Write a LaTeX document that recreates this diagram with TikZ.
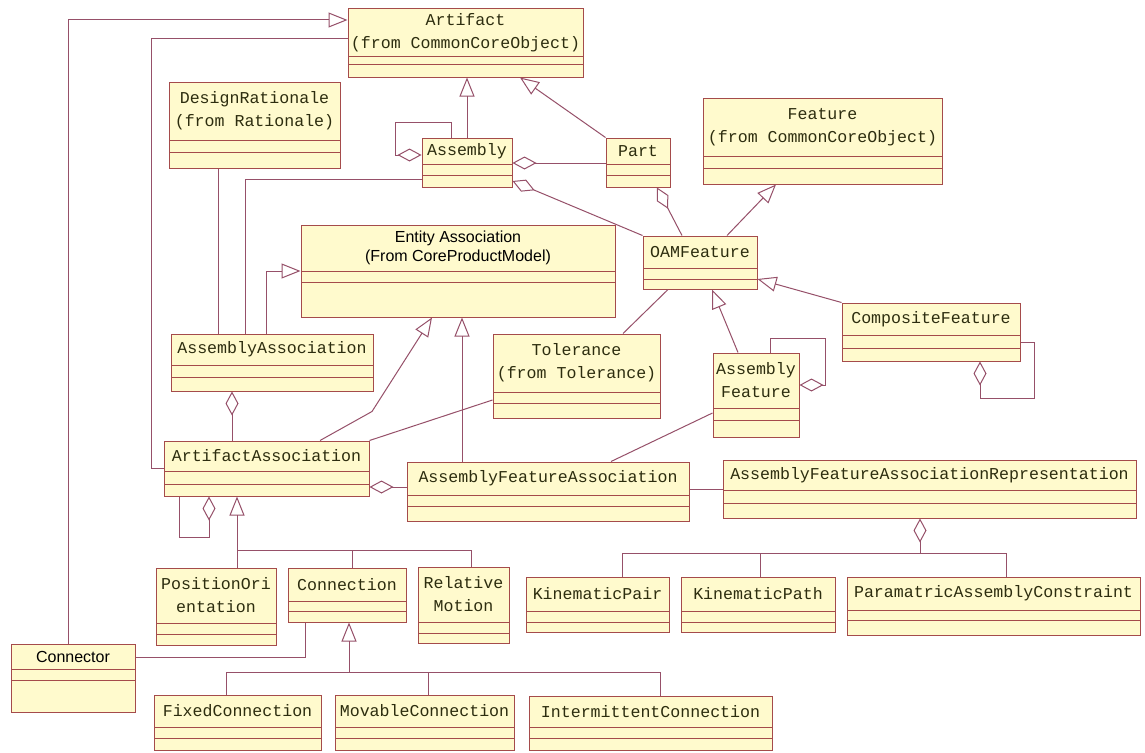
\documentclass[tikz,border=0pt]{standalone}
\usepackage{fontspec}
\newfontfamily\umlmono{Liberation Mono}
\newfontfamily\umlsans{Liberation Sans}
\usetikzlibrary{arrows.meta, calc, fit}

\definecolor{boxfill}{RGB}{255,250,205}
\definecolor{boxline}{RGB}{165,75,75}
\definecolor{linkcol}{RGB}{150,80,105}
\definecolor{textcol}{RGB}{45,45,15}

\tikzset{
  classbox/.style={draw=boxline, fill=boxfill, line width=1pt, inner sep=0pt},
  comprule/.style={draw=boxline, line width=1pt},
  monotext/.style={font=\umlmono\fontsize{16.6}{23}\selectfont, text=textcol, align=center, inner sep=0pt},
  sanstext/.style={font=\umlsans\fontsize{16}{19}\selectfont, text=black, align=center, inner sep=0pt},
  assoc/.style={draw=linkcol, line width=1pt},
  gen/.style={assoc, -{Triangle[open, length=19pt, width=15pt]}},
  agg/.style={assoc, {Diamond[open, length=24pt, width=13pt]}-},
}

% class box: [font] name, x1, y1, x2, y2, first rule, second rule, text
\newcommand{\umlclass}[9][monotext]{%
  \node[classbox, fit={(#3,#4) (#5,#6)}] (#2) {};
  \draw[comprule] (#3,#7) -- (#5,#7) (#3,#8) -- (#5,#8);
  \node[#1] (#2-name) at ({(#3+#5)/2},{(#4+#7)/2}) {#9};
}

\begin{document}
\begin{tikzpicture}[x=1pt, y=-1pt]
  \useasboundingbox[fill=white] (0,0) rectangle (1145,752);

  % the classes
  \umlclass{art}{348}{9}{583}{77}{57}{65}{Artifact\\(from CommonCoreObject)}
  \umlclass{desrat}{169}{82}{340}{168}{140}{152}{DesignRationale\\(from Rationale)}
  \umlclass{asm}{422}{138}{512}{187}{164}{175}{Assembly}
  \umlclass{part}{606}{138}{670}{187}{164}{175}{Part}
  \umlclass{feat}{703}{98}{942}{184}{156}{168}{Feature\\(from CommonCoreObject)}
  \umlclass[sanstext]{entass}{301}{225}{615}{317}{271}{282}{Entity Association\\(From CoreProductModel)}
  \umlclass{oam}{643}{236}{757}{289}{268}{279}{OAMFeature}
  \umlclass{comp}{842}{303}{1020}{361}{335}{348}{CompositeFeature}
  \umlclass{asmass}{171}{334}{373}{391}{365}{377}{AssemblyAssociation}
  \umlclass{tol}{493}{334}{660}{418}{392}{403}{Tolerance\\(from Tolerance)}
  \umlclass{asmfeat}{713}{353}{799}{437}{408}{420}{Assembly\\Feature}
  \umlclass{artass}{164}{441}{369}{496}{471}{484}{ArtifactAssociation}
  \umlclass{afa}{407}{462}{689}{521}{495}{506}{AssemblyFeatureAssociation}
  \umlclass{afar}{723}{460}{1136}{518}{490}{503}{AssemblyFeatureAssociationRepresentation}
  \umlclass{posori}{156}{568}{276}{645}{623}{634}{PositionOri\\entation}
  \umlclass{conn}{288}{568}{406}{622}{601}{611}{Connection}
  \umlclass{relmot}{418}{567}{509}{643}{622}{633}{Relative\\Motion}
  \umlclass{kpair}{526}{577}{669}{632}{611}{622}{KinematicPair}
  \umlclass{kpath}{681}{577}{835}{632}{611}{622}{KinematicPath}
  \umlclass{pac}{847}{577}{1140}{635}{610}{620}{ParamatricAssemblyConstraint}
  \umlclass[sanstext]{connector}{11}{644}{135}{712}{669}{680}{Connector}
  \umlclass{fixed}{154}{695}{321}{750}{727}{738}{FixedConnection}
  \umlclass{movable}{335}{695}{514}{750}{727}{738}{MovableConnection}
  \umlclass{intermit}{529}{696}{772}{750}{727}{738}{IntermittentConnection}

  % links to Artifact
  \draw[gen] (connector.north -| 68,0) |- (art.west |- 0,20);
  \draw[assoc] (artass.west) -- ++(-12,0) |- (art.west |- 0,39);
  \draw[gen] (asm.north -| 467,0) -- (art.south -| 467,0);
  \draw[gen] (part.north west) -- (art.south -| 520,0);
  \draw[agg] (asm.west |- 0,155) -| ++(-26,-33) -| (asm.north -| 451,0);
  \draw[agg] (asm.east |- 0,163) -- (part.west |- 0,163);
  \draw[agg] (asm.east |- 0,181) -- (oam.north west);
  \draw[agg] (part.south -| 657,0) -- (oam.north -| 682,0);

  % features
  \draw[gen] (oam.north -| 727,0) -- (feat.south -| 776,0);
  \draw[gen] (comp.north west) -- (oam.east |- 0,279);
  \draw[gen] (asmfeat.north -| 738,0) -- (oam.south -| 712,0);
  \draw[agg] (asmfeat.east |- 0,385) -| ++(26,-47) -| (asmfeat.north -| 770,0);
  \draw[agg] (comp.south -| 980,0) |- ++(54,37) |- (comp.east |- 0,342);
  \draw[assoc] (oam.south -| 668,0) -- (tol.north -| 623,0);

  % associations
  \draw[assoc] (desrat.south -| 218,0) -- (asmass.north -| 218,0);
  \draw[assoc] (asm.west |- 0,179) -| (asmass.north -| 245,0);
  \draw[gen] (asmass.north -| 266,0) |- (entass.west |- 0,271);
  \draw[agg] (asmass.south -| 232,0) -- (artass.north -| 232,0);
  \draw[assoc] (tol.west |- 0,400) -- (artass.north east);
  \draw[gen] (artass.north -| 320,0) -- ++(52,-29) -- (entass.south -| 432,0);
  \draw[gen] (afa.north -| 462,0) -- (entass.south -| 462,0);
  \draw[assoc] (asmfeat.west |- 0,413) -- (afa.north -| 611,0);
  \draw[agg] (artass.east |- 0,487) -- (afa.west |- 0,487);
  \draw[assoc] (afa.east |- 0,489) -- (afar.west |- 0,489);
  \draw[agg] (artass.south -| 209,0) -- ++(0,41) -| (artass.south -| 179,0);

  % trees
  \coordinate (kbus) at (920,553);
  \draw[agg] (afar.south -| kbus) -- (kbus);
  \foreach \n/\x in {kpair/622, kpath/760, pac/1006}
    \draw[assoc] (kbus) -| (\n.north -| \x,0);

  \coordinate (abus) at (237,550);
  \draw[gen] (abus) -- (artass.south -| abus);
  \foreach \n/\x in {posori/237, conn/352, relmot/471}
    \draw[assoc] (abus) -| (\n.north -| \x,0);

  \draw[assoc] (connector.east |- 0,657) -| (conn.south -| 305,0);
  \coordinate (cbus) at (349,672);
  \draw[gen] (cbus) -- (conn.south -| cbus);
  \foreach \n/\x in {fixed/226, movable/428, intermit/660}
    \draw[assoc] (cbus) -| (\n.north -| \x,0);
\end{tikzpicture}
\end{document}
